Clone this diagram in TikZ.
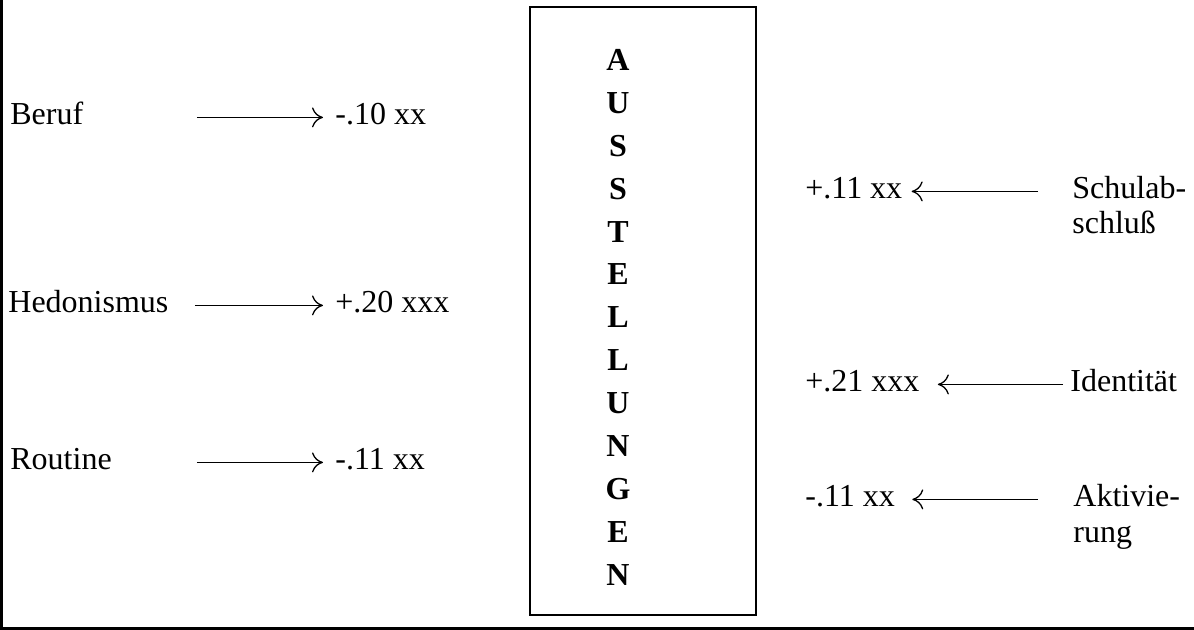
\documentclass[tikz,border=0pt]{standalone}
\usepackage{fontspec}
\setmainfont{Liberation Serif}
\usetikzlibrary{arrows.meta}
\begin{document}
\begin{tikzpicture}[x=0.5pt,y=-0.5pt,>={Computer Modern Rightarrow[length=5.5pt,width=10pt]},font=\fontsize{16}{17.5}\selectfont,
  lbl/.style={inner sep=0pt,anchor=base west},
  links/.style={lbl,text width=93pt,align=left},
  rechts/.style={lbl,text width=70pt,align=left},
  pfeil/.style={->,line width=0.65pt,transform canvas={yshift=1.5pt}}]
  \useasboundingbox (0,0) rectangle (1194,630);
  % Rahmen (nur links und unten)
  \draw[line width=1.75pt] (1.5,0) -- (1.5,628.5) -- (1194,628.5);
  % Kasten mit Buchstaben
  \node[draw,line width=1pt,minimum width=113pt,minimum height=304pt,inner sep=0pt] (kasten) at (643,311) {};
  \foreach \b [count=\i from 0] in {A,U,S,S,T,E,L,L,U,N,G,E,N}
    \node[inner sep=0pt,font=\fontsize{16}{17.5}\selectfont\bfseries] (buch\i) at (618,60+42.9*\i) {\b};
  % linke Seite
  \node[links] (beruf) at (10,125) {Beruf};
  \node[links] (hedon) at (8,313) {Hedonismus};
  \node[links] (routine) at (10,470) {Routine};
  \node[lbl] (wberuf) at (335,125) {-.10 xx};
  \node[lbl] (whedon) at (335,313) {+.20 xxx};
  \node[lbl] (wroutine) at (335,470) {-.11 xx};
  \draw[pfeil,shorten >=6pt] (beruf.mid east) -- (wberuf.mid west);
  \draw[pfeil,shorten >=6pt] (hedon.mid east) -- (whedon.mid west);
  \draw[pfeil,shorten >=6pt] (routine.mid east) -- (wroutine.mid west);
  % rechte Seite
  \node[rechts] (schul) at (1072,199) {Schulab-\\schluß};
  \node[rechts] (ident) at (1070,392) {Identität};
  \node[rechts] (aktiv) at (1073,507) {Aktivie-\\rung};
  \node[lbl] (wschul) at (805,199) {+.11 xx};
  \node[lbl] (wident) at (805,392) {+.21 xxx};
  \node[lbl] (waktiv) at (805,507) {-.11 xx};
  \draw[pfeil,shorten <=17pt,shorten >=4.5pt] (schul.mid west) -- (wschul.mid east);
  \draw[pfeil,shorten <=3.5pt,shorten >=9pt] (ident.mid west) -- (wident.mid east);
  \draw[pfeil,shorten <=17.5pt,shorten >=8.5pt] (aktiv.mid west) -- (waktiv.mid east);
\end{tikzpicture}
\end{document}
